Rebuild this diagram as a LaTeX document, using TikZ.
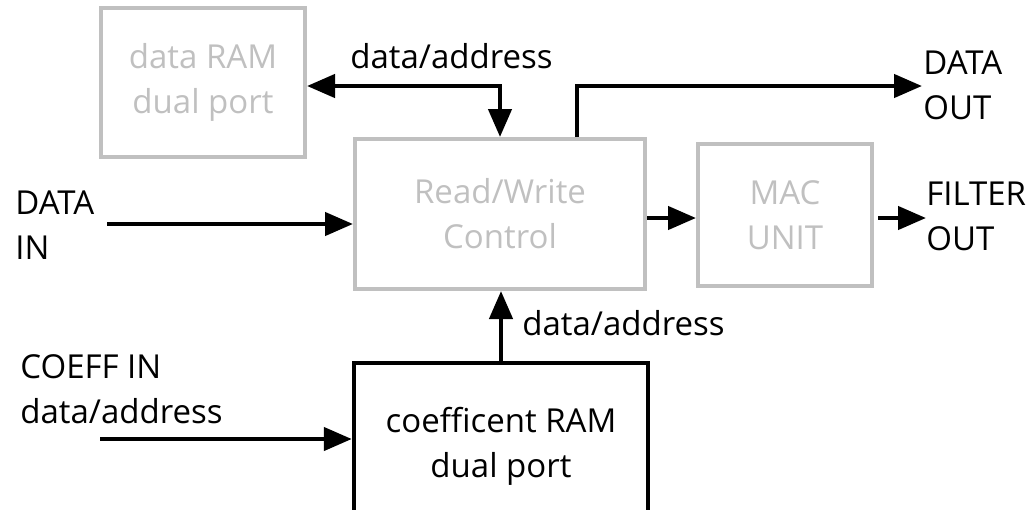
\documentclass[tikz,border=0pt]{standalone}
\usepackage{fontspec}
\setmainfont{Open Sans}
\usetikzlibrary{arrows.meta}
\definecolor{lightblk}{HTML}{C0C0C0}
\tikzset{
 gblk/.style={draw=lightblk,line width=2pt,text=lightblk,align=center,inner sep=0pt},
 kblk/.style={draw=black,line width=2.2pt,align=center,inner sep=0pt},
 sig/.style={line width=2.2pt,-{Triangle[length=14pt,width=11.5pt]}},
 bisig/.style={line width=2.2pt,{Triangle[length=14pt,width=11.5pt]}-{Triangle[length=14pt,width=11.5pt]}},
 lbl/.style={align=left,inner sep=0pt}
}
\begin{document}
\begin{tikzpicture}[x=0.5pt,y=-0.5pt,font=\fontsize{16.5}{22.5}\selectfont]
 \useasboundingbox (0,0) rectangle (1031,509);
 \clip (0,0) rectangle (1031,509);
 % blocks
 \node[gblk,minimum width=102pt,minimum height=74.5pt] (dram) at (203,82.5) {data RAM\\dual port};
 \node[gblk,minimum width=145pt,minimum height=75pt] (rw) at (500,214) {Read/Write\\Control};
 \node[gblk,minimum width=87pt,minimum height=71pt] (mac) at (785,215) {MAC\\UNIT};
 \node[kblk,minimum width=147pt,minimum height=83pt] (cram) at (501,446) {coefficent RAM\\dual port};
 % labels
 \node[lbl,anchor=base west] (datop) at (350,68) {data/address};
 \node[lbl,anchor=base west] (damid) at (522,335) {data/address};
 \node[lbl,anchor=west] (doutlbl) at (923,85.5) {DATA\\OUT};
 \node[lbl,anchor=west] (dinlbl) at (15,225) {DATA\\IN};
 \node[lbl,anchor=west] (foutlbl) at (926,216.5) {FILTER\\OUT};
 \node[lbl,anchor=west] (cinlbl) at (20,389) {COEFF IN\\data/address};
 % connectors
 \coordinate (j) at (500,86);
 \coordinate (tap) at (577,86);
 \coordinate (dout) at (922,86);
 \coordinate (din) at (107,224);
 \coordinate (m) at (0,218);
 \coordinate (fout) at (926,218);
 \coordinate (cin) at (100,439);
 \draw[bisig] (dram.east |- j) -- (j) -- (rw.north);
 \draw[sig] (tap |- rw.north) -- (tap) -- (dout);
 \draw[sig] (din) -- (din -| rw.west);
 \draw[sig] (rw.east |- m) -- (mac.west |- m);
 \draw[sig] ([xshift=2pt]mac.east |- fout) -- (fout);
 \draw[sig] (cram.north) -- (cram.north |- rw.south);
 \draw[sig] (cin) -- (cin -| cram.west);
\end{tikzpicture}
\end{document}
